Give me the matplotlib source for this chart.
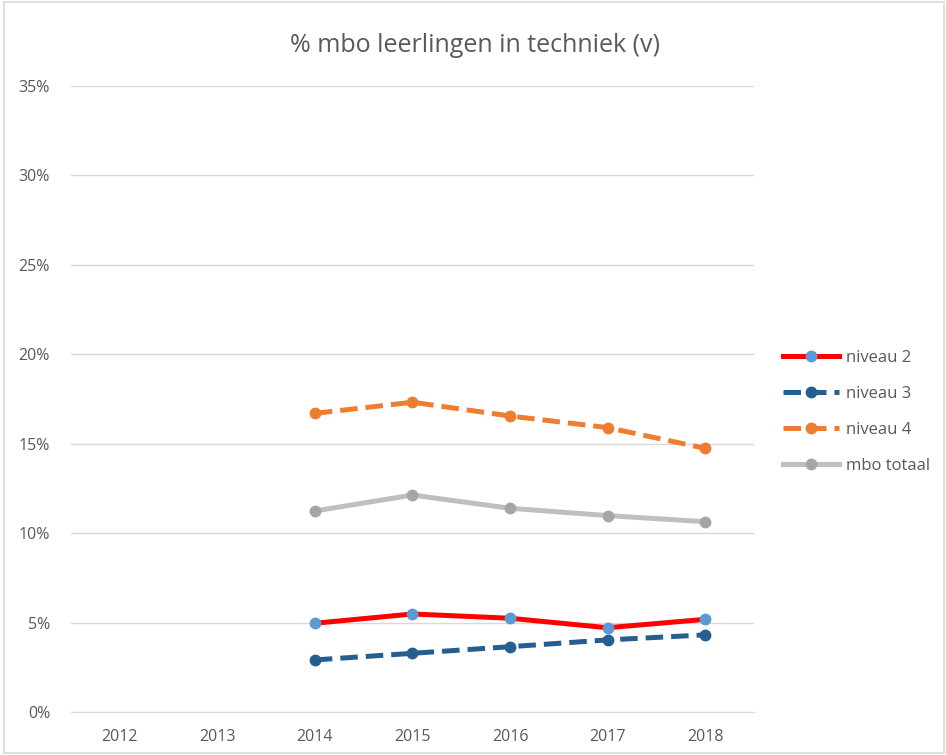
import matplotlib.pyplot as plt
from matplotlib.patches import Rectangle

jaren = ['2012', '2013', '2014', '2015', '2016', '2017', '2018']
jaren_data = ['2014', '2015', '2016', '2017', '2018']
niveau_2 = [4.96, 5.48, 5.24, 4.71, 5.18]
niveau_3 = [2.91, 3.28, 3.65, 4.03, 4.31]
niveau_4 = [16.70, 17.32, 16.55, 15.90, 14.74]
mbo_totaal = [11.24, 12.13, 11.39, 10.98, 10.64]

plt.rcParams['font.family'] = ['Open Sans', 'DejaVu Sans']

fig = plt.figure(figsize=(9.46, 7.55), dpi=100)
ax = fig.add_axes([0.075, 0.057, 0.722, 0.829])

# rand om de hele grafiek
fig.patches.append(Rectangle((0.004, 0.003), 0.994, 0.994, transform=fig.transFigure,
                             fill=False, edgecolor='#D9D9D9', linewidth=1.2))

x = [jaren.index(j) for j in jaren_data]
lw = 3.6
ms = 7.5
ax.plot(x, niveau_2, '-', color='#FF0000', lw=lw, marker='o', ms=ms,
        mfc='#5B9BD5', mec='#5B9BD5', label='niveau 2')
ax.plot(x, niveau_3, color='#255E91', lw=lw, dashes=(3.5, 1.6), marker='o', ms=ms,
        mfc='#255E91', mec='#255E91', label='niveau 3')
ax.plot(x, niveau_4, color='#ED7D31', lw=lw, dashes=(3.5, 1.6), marker='o', ms=ms,
        mfc='#ED7D31', mec='#ED7D31', label='niveau 4')
ax.plot(x, mbo_totaal, '-', color='#BFBFBF', lw=lw, marker='o', ms=ms,
        mfc='#A5A5A5', mec='#A5A5A5', label='mbo totaal')

ax.set_xlim(-0.5, 6.5)
ax.set_ylim(0, 35)
ax.set_xticks(range(len(jaren)))
ax.set_xticklabels(jaren)
ax.set_yticks(range(0, 36, 5))
ax.set_yticklabels([f'{v}%' for v in range(0, 36, 5)])
ax.tick_params(colors='#595959', labelsize=11.5, length=0)
ax.tick_params(axis='y', pad=15)
ax.tick_params(axis='x', pad=12)
ax.grid(axis='y', color='#D9D9D9', lw=1)
ax.set_axisbelow(True)
for s in ['top', 'right', 'left']:
    ax.spines[s].set_visible(False)
ax.spines['bottom'].set_color('#D9D9D9')

fig.text(0.502, 0.94, '% mbo leerlingen in techniek (v)', ha='center', va='center',
         fontsize=18, color='#595959')

ax.legend(loc='center left', bbox_to_anchor=(1.02, 0.48), frameon=False,
          fontsize=12, labelcolor='#595959', handlelength=3.4, labelspacing=1.2,
          handletextpad=0.4)

fig.savefig('out.png', dpi=100)
